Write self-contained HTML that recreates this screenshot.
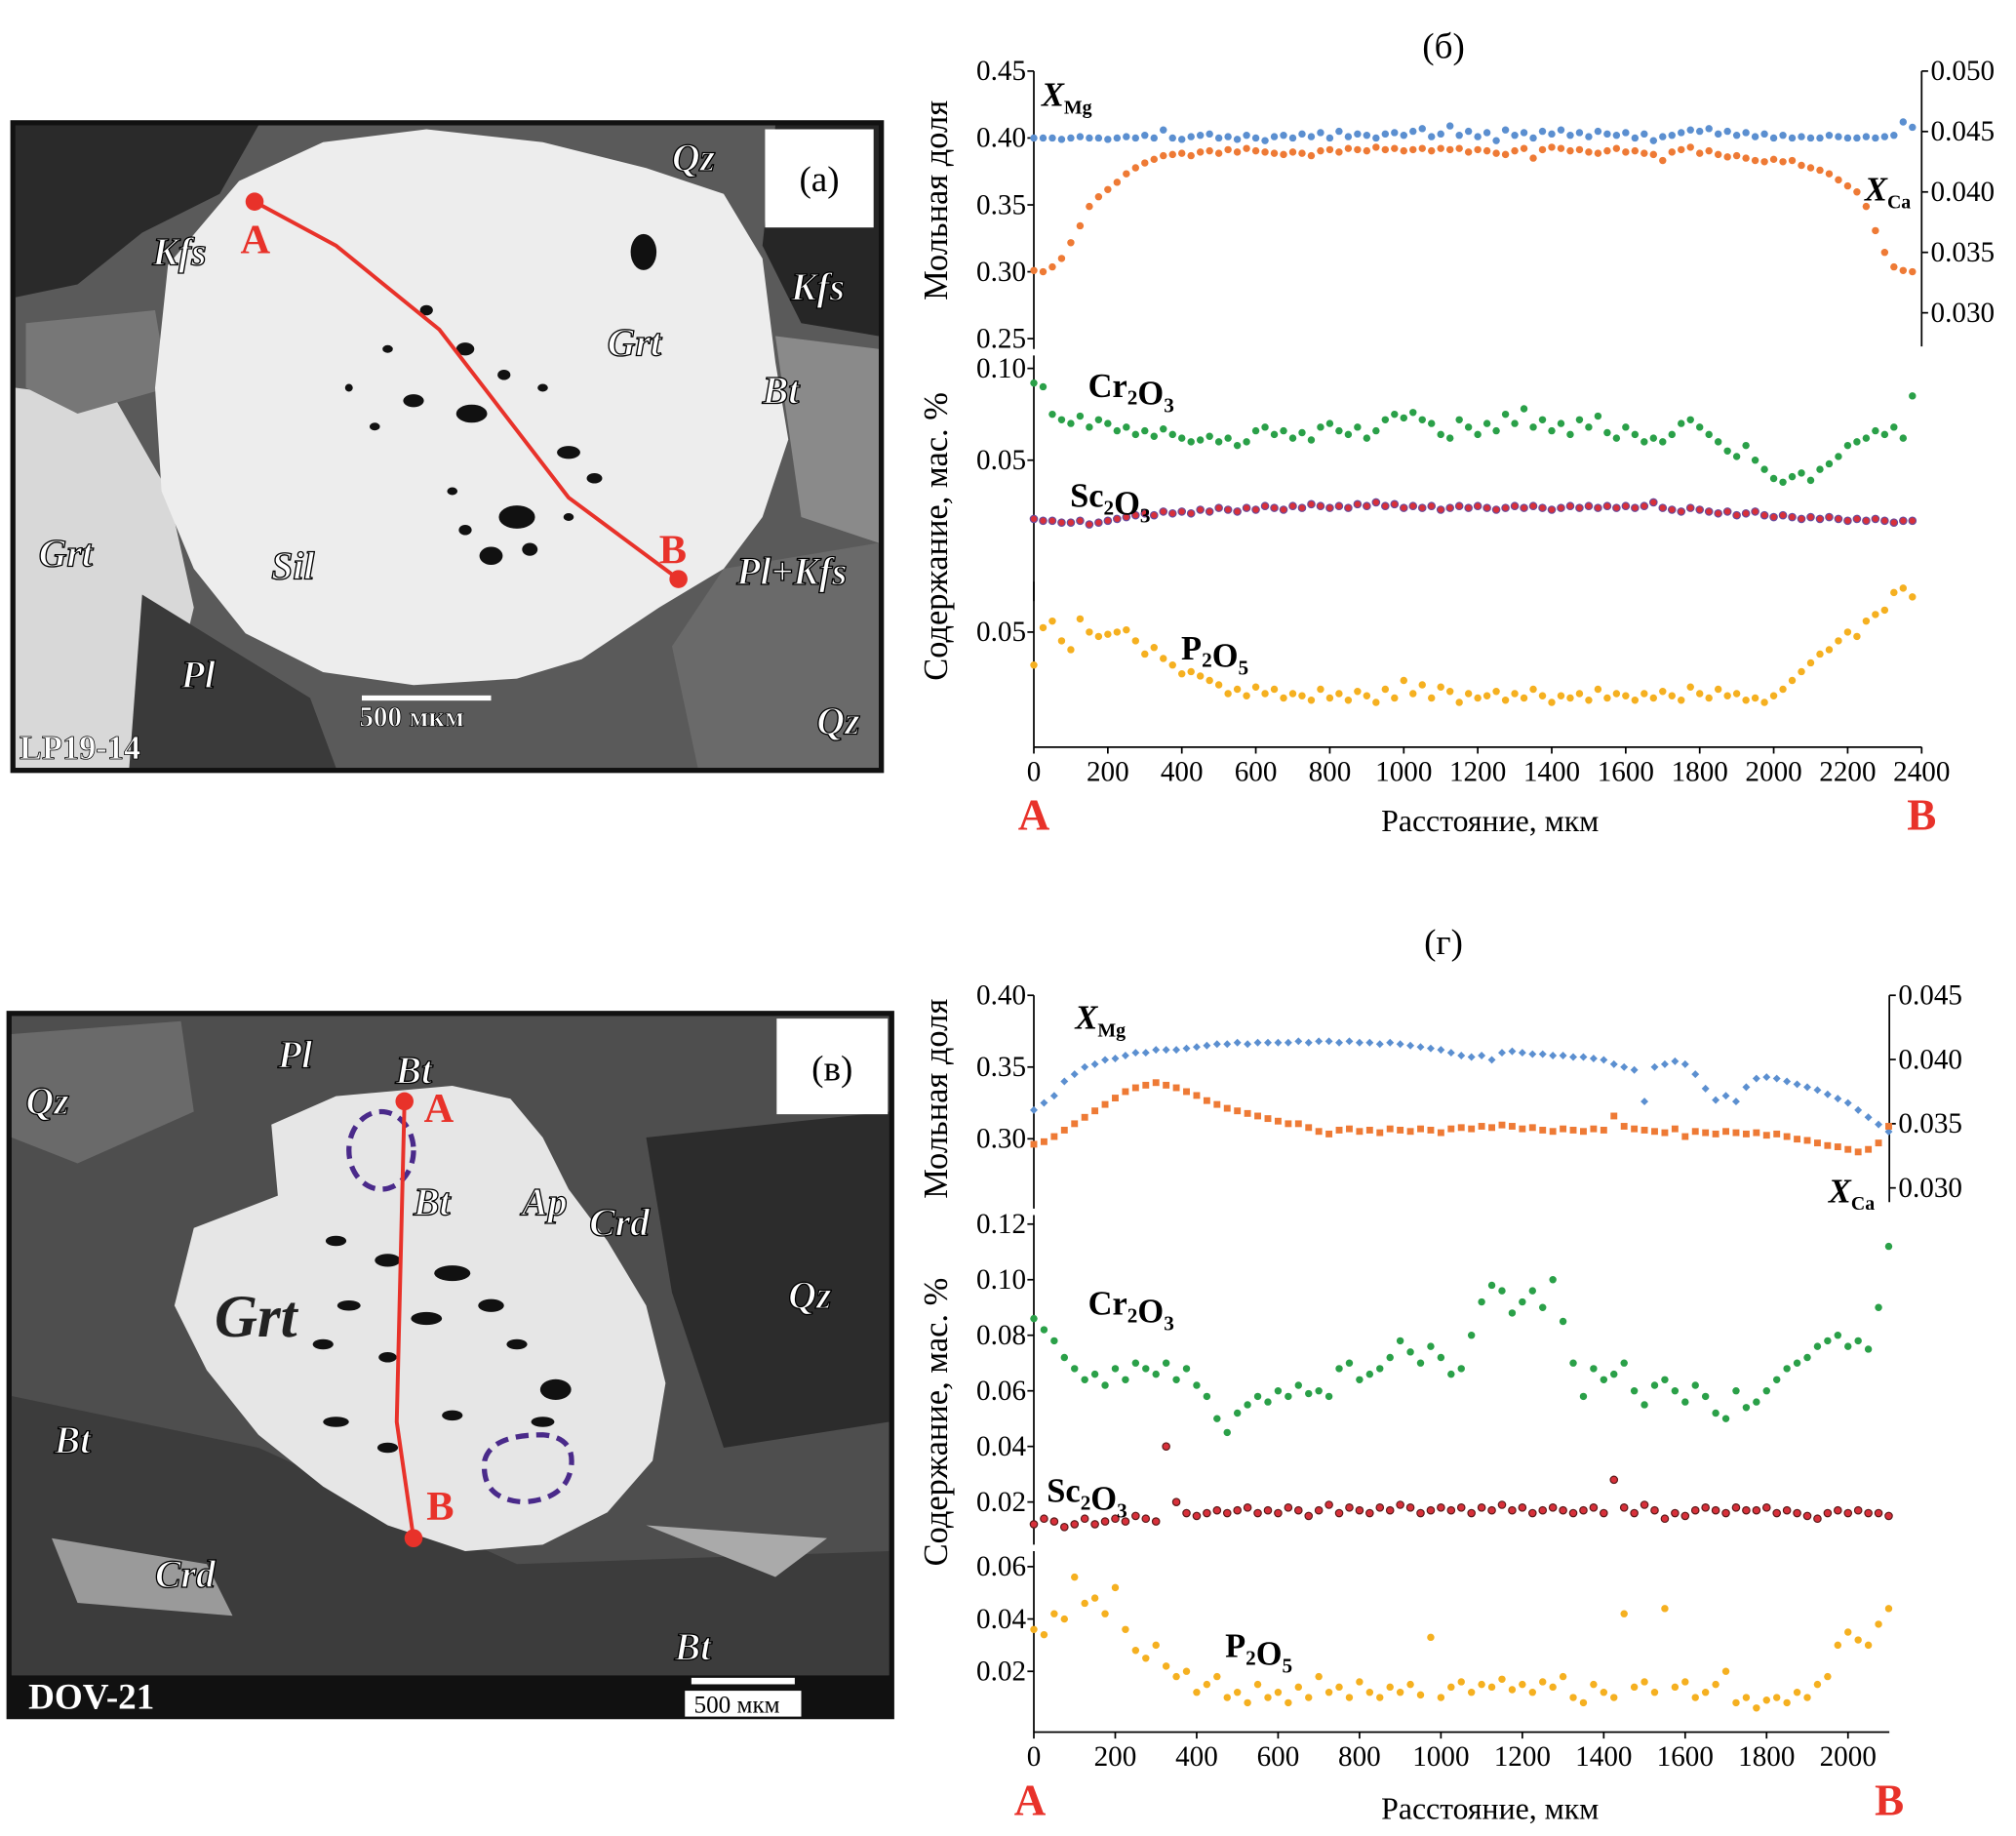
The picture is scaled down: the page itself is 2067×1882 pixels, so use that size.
<!DOCTYPE html>
<html><head><meta charset="utf-8">
<style>
html,body{margin:0;padding:0;background:#fff;overflow:hidden;width:2067px;height:1875px}
#root{position:absolute;left:0;top:0;width:1560px;height:1415px;transform:scale(1.325);transform-origin:0 0;font-family:"Liberation Serif",serif}
svg text{font-family:"Liberation Serif",serif}
</style></head><body>
<div id="root">
<svg id="s" width="1560" height="1415" viewBox="0 0 1560 1415" xmlns="http://www.w3.org/2000/svg">
<!-- Photo (a) -->
<g>
<rect x="8" y="93" width="676" height="505" fill="#111"/>
<rect x="12" y="97" width="668" height="497" fill="#5a5a5a"/>
<path d="M12 97 L200 97 L170 150 L110 180 L60 220 L12 230Z" fill="#2a2a2a"/>
<path d="M12 300 L90 310 L130 380 L150 470 L120 594 L12 594Z" fill="#d8d8d8"/>
<path d="M600 97 L680 97 L680 260 L620 250 L590 190Z" fill="#262626"/>
<path d="M600 260 L680 270 L680 420 L620 400Z" fill="#8a8a8a"/>
<path d="M560 440 L680 420 L680 594 L540 594 L520 500Z" fill="#6a6a6a"/>
<path d="M20 250 L120 240 L130 300 L60 320 L20 300Z" fill="#777"/>
<path d="M110 460 L240 540 L260 594 L100 594Z" fill="#3a3a3a"/>
<path d="M130 205 L185 140 L250 110 L330 100 L420 110 L500 130 L560 150 L590 200 L600 280 L610 340 L590 400 L560 440 L510 470 L450 510 L400 525 L320 530 L250 520 L190 490 L150 440 L125 380 L120 300Z" fill="#ededed"/>
<g fill="#111">
<ellipse cx="498" cy="195" rx="10" ry="14"/><ellipse cx="320" cy="310" rx="8" ry="5"/><ellipse cx="365" cy="320" rx="12" ry="7"/>
<ellipse cx="400" cy="400" rx="14" ry="9"/><ellipse cx="380" cy="430" rx="9" ry="7"/><ellipse cx="410" cy="425" rx="6" ry="5"/>
<ellipse cx="360" cy="270" rx="7" ry="5"/><ellipse cx="300" cy="270" rx="4" ry="3"/><ellipse cx="330" cy="240" rx="5" ry="4"/>
<ellipse cx="440" cy="350" rx="9" ry="5"/><ellipse cx="460" cy="370" rx="6" ry="4"/><ellipse cx="290" cy="330" rx="4" ry="3"/>
<ellipse cx="350" cy="380" rx="4" ry="3"/><ellipse cx="270" cy="300" rx="3" ry="3"/><ellipse cx="390" cy="290" rx="5" ry="4"/>
<ellipse cx="420" cy="300" rx="4" ry="3"/><ellipse cx="360" cy="410" rx="5" ry="4"/><ellipse cx="440" cy="400" rx="4" ry="3"/>
</g>
<polyline points="197,156 260,190 340,255 440,385 525,448" fill="none" stroke="#e8322a" stroke-width="3"/>
<circle cx="197" cy="156" r="7" fill="#e8322a"/><circle cx="525" cy="448" r="7" fill="#e8322a"/>
<rect x="592" y="100" width="84" height="76" fill="#fff"/>
<text x="634" y="148" font-size="28" text-anchor="middle">(а)</text>
<g font-weight="bold" font-style="italic" font-size="30" fill="#fff" stroke="#000" stroke-width="1">
<text x="118" y="205">Kfs</text><text x="520" y="132">Qz</text><text x="470" y="275">Grt</text>
<text x="612" y="232">Kfs</text><text x="590" y="312">Bt</text><text x="30" y="438">Grt</text>
<text x="210" y="448">Sil</text><text x="570" y="452">Pl+Kfs</text><text x="140" y="532">Pl</text><text x="632" y="568">Qz</text>
</g>
<g font-weight="bold" font-size="32" fill="#e8322a"><text x="186" y="196">A</text><text x="510" y="436">B</text></g>
<rect x="280" y="538" width="100" height="4" fill="#fff"/>
<text x="278" y="562" font-size="22" font-weight="bold" fill="#fff" stroke="#000" stroke-width="0.6">500 мкм</text>
<text x="15" y="587" font-size="26" font-weight="bold" fill="#fff" stroke="#000" stroke-width="0.6">LP19-14</text>
</g>
<!-- Photo (в) -->
<g>
<rect x="5" y="782" width="687" height="548" fill="#111"/>
<rect x="9" y="786" width="679" height="510" fill="#4e4e4e"/>
<path d="M9 1080 L200 1120 L400 1210 L688 1200 L688 1296 L9 1296Z" fill="#3c3c3c"/>
<path d="M500 880 L688 860 L688 1100 L560 1120 L520 1000Z" fill="#2c2c2c"/>
<path d="M9 800 L140 790 L150 860 L60 900 L9 880Z" fill="#6a6a6a"/>
<path d="M40 1190 L160 1210 L180 1250 L60 1240Z" fill="#9a9a9a"/>
<path d="M500 1180 L640 1190 L600 1220Z" fill="#aaa"/>
<path d="M210 870 L260 848 L350 840 L395 850 L420 880 L440 920 L470 960 L500 1010 L515 1070 L505 1130 L470 1170 L420 1195 L360 1200 L300 1180 L250 1150 L200 1110 L160 1060 L135 1010 L150 950 L215 925Z" fill="#e6e6e6"/>
<g fill="#111">
<ellipse cx="260" cy="960" rx="8" ry="4"/><ellipse cx="300" cy="975" rx="10" ry="5"/><ellipse cx="350" cy="985" rx="14" ry="6"/>
<ellipse cx="380" cy="1010" rx="10" ry="5"/><ellipse cx="330" cy="1020" rx="12" ry="5"/><ellipse cx="270" cy="1010" rx="9" ry="4"/>
<ellipse cx="250" cy="1040" rx="8" ry="4"/><ellipse cx="300" cy="1050" rx="7" ry="4"/><ellipse cx="400" cy="1040" rx="8" ry="4"/>
<ellipse cx="430" cy="1075" rx="12" ry="8"/><ellipse cx="350" cy="1095" rx="8" ry="4"/><ellipse cx="260" cy="1100" rx="10" ry="4"/>
<ellipse cx="300" cy="1120" rx="8" ry="4"/><ellipse cx="420" cy="1100" rx="9" ry="4"/>
</g>
<ellipse cx="295" cy="890" rx="25" ry="30" fill="none" stroke="#4a2a8a" stroke-width="4" stroke-dasharray="10,6"/>
<path d="M375 1130 Q380 1110 420 1110 Q445 1112 442 1135 Q438 1160 405 1162 Q372 1160 375 1130Z" fill="none" stroke="#4a2a8a" stroke-width="4" stroke-dasharray="10,6"/>
<polyline points="313,852 307,1100 320,1190" fill="none" stroke="#e8322a" stroke-width="3"/>
<circle cx="313" cy="852" r="7" fill="#e8322a"/><circle cx="320" cy="1190" r="7" fill="#e8322a"/>
<rect x="601" y="788" width="86" height="74" fill="#fff"/>
<text x="644" y="836" font-size="28" text-anchor="middle">(в)</text>
<g font-weight="bold" font-style="italic" font-size="30" fill="#fff" stroke="#000" stroke-width="1">
<text x="215" y="826">Pl</text><text x="306" y="838">Bt</text><text x="20" y="862">Qz</text>
<text x="320" y="940">Bt</text><text x="404" y="940">Ap</text><text x="456" y="956">Crd</text>
<text x="610" y="1012">Qz</text><text x="42" y="1124">Bt</text><text x="120" y="1228">Crd</text><text x="522" y="1284">Bt</text>
</g>
<text x="166" y="1034" font-weight="bold" font-style="italic" font-size="46" fill="#222">Grt</text>
<g font-weight="bold" font-size="32" fill="#e8322a"><text x="328" y="868">A</text><text x="330" y="1176">B</text></g>
<rect x="535" y="1298" width="80" height="5" fill="#fff"/>
<rect x="530" y="1308" width="90" height="20" fill="#fff"/>
<text x="537" y="1325" font-size="19">500 мкм</text>
<text x="22" y="1322" font-size="28" font-weight="bold" fill="#fff">DOV-21</text>
</g>
<g id="chartB"></g>
<g id="chartG"></g>
</svg>
</div>
<script>
const stepB = 25;
const xMgB = [0.400,0.400,0.400,0.399,0.400,0.401,0.400,0.400,0.399,0.400,0.401,0.400,0.402,0.400,0.406,0.400,0.399,0.401,0.402,0.403,0.400,0.401,0.399,0.402,0.400,0.398,0.401,0.402,0.400,0.403,0.401,0.404,0.400,0.405,0.401,0.403,0.402,0.400,0.403,0.404,0.402,0.405,0.407,0.401,0.403,0.409,0.402,0.405,0.401,0.404,0.398,0.406,0.402,0.404,0.400,0.405,0.403,0.406,0.402,0.404,0.401,0.405,0.403,0.402,0.404,0.400,0.403,0.398,0.401,0.402,0.404,0.406,0.405,0.407,0.403,0.405,0.402,0.404,0.401,0.403,0.400,0.402,0.400,0.401,0.400,0.400,0.402,0.401,0.400,0.400,0.401,0.400,0.401,0.402,0.412,0.408];
const xCaB = [0.0335,0.0334,0.0338,0.0345,0.0358,0.0372,0.0388,0.0396,0.0402,0.0408,0.0415,0.0420,0.0424,0.0427,0.0430,0.0431,0.0432,0.0430,0.0433,0.0434,0.0432,0.0435,0.0433,0.0436,0.0434,0.0433,0.0432,0.0431,0.0433,0.0432,0.0430,0.0434,0.0435,0.0433,0.0436,0.0435,0.0434,0.0437,0.0435,0.0436,0.0434,0.0435,0.0436,0.0434,0.0436,0.0435,0.0436,0.0433,0.0435,0.0434,0.0432,0.0431,0.0434,0.0436,0.0428,0.0435,0.0437,0.0436,0.0434,0.0435,0.0433,0.0432,0.0434,0.0436,0.0433,0.0434,0.0432,0.0431,0.0426,0.0433,0.0435,0.0437,0.0432,0.0434,0.0431,0.0429,0.0430,0.0428,0.0426,0.0425,0.0427,0.0425,0.0426,0.0422,0.0420,0.0418,0.0415,0.0410,0.0405,0.0400,0.0388,0.0368,0.0350,0.0338,0.0335,0.0334];
const crB = [0.092,0.090,0.075,0.072,0.070,0.074,0.068,0.072,0.070,0.066,0.068,0.064,0.066,0.063,0.067,0.064,0.062,0.060,0.061,0.063,0.060,0.062,0.058,0.060,0.066,0.068,0.064,0.066,0.062,0.065,0.061,0.068,0.070,0.066,0.064,0.068,0.062,0.066,0.072,0.075,0.073,0.076,0.072,0.070,0.064,0.062,0.072,0.068,0.064,0.070,0.066,0.075,0.070,0.078,0.068,0.072,0.066,0.070,0.064,0.072,0.068,0.074,0.065,0.062,0.068,0.064,0.060,0.062,0.060,0.064,0.070,0.072,0.068,0.064,0.060,0.055,0.052,0.058,0.050,0.045,0.040,0.038,0.041,0.043,0.039,0.045,0.048,0.052,0.058,0.060,0.062,0.066,0.064,0.068,0.062,0.085];
const scB = [0.018,0.017,0.017,0.016,0.016,0.017,0.015,0.016,0.017,0.018,0.019,0.020,0.021,0.020,0.022,0.021,0.022,0.021,0.023,0.022,0.024,0.023,0.022,0.024,0.023,0.025,0.024,0.023,0.025,0.024,0.026,0.025,0.024,0.025,0.024,0.026,0.025,0.027,0.025,0.026,0.024,0.025,0.024,0.025,0.023,0.024,0.025,0.024,0.025,0.024,0.023,0.024,0.025,0.024,0.025,0.024,0.023,0.024,0.025,0.024,0.025,0.024,0.025,0.024,0.025,0.024,0.025,0.027,0.024,0.023,0.022,0.024,0.023,0.022,0.021,0.022,0.020,0.021,0.022,0.020,0.019,0.020,0.019,0.018,0.019,0.018,0.019,0.018,0.017,0.018,0.017,0.018,0.017,0.016,0.017,0.017];
const pB = [0.035,0.052,0.055,0.046,0.042,0.056,0.050,0.048,0.049,0.050,0.051,0.046,0.040,0.043,0.038,0.035,0.031,0.032,0.030,0.028,0.026,0.022,0.024,0.021,0.025,0.022,0.024,0.020,0.022,0.021,0.019,0.024,0.020,0.022,0.019,0.023,0.021,0.018,0.024,0.020,0.028,0.022,0.026,0.020,0.025,0.023,0.018,0.022,0.020,0.021,0.023,0.019,0.022,0.020,0.024,0.021,0.018,0.021,0.020,0.022,0.019,0.024,0.020,0.022,0.021,0.019,0.022,0.020,0.023,0.021,0.019,0.025,0.022,0.020,0.024,0.021,0.022,0.019,0.020,0.018,0.021,0.024,0.028,0.032,0.036,0.040,0.042,0.046,0.050,0.048,0.055,0.058,0.060,0.068,0.070,0.066];
const ticksXB = [0,200,400,600,800,1000,1200,1400,1600,1800,2000,2200,2400];
const ticksMolB = [0.45,0.40,0.35,0.30,0.25];
const ticksCaB = [0.050,0.045,0.040,0.035,0.030];
const ticksCrB = [0.10,0.05];
const ticksPB = [0.05];

const stepG = 25;
const xMgG = [0.320,0.325,0.330,0.340,0.345,0.350,0.352,0.355,0.356,0.358,0.360,0.360,0.362,0.362,0.362,0.363,0.364,0.365,0.366,0.366,0.367,0.366,0.367,0.367,0.367,0.367,0.368,0.367,0.368,0.368,0.367,0.368,0.367,0.367,0.366,0.367,0.366,0.365,0.364,0.363,0.362,0.360,0.358,0.357,0.358,0.355,0.360,0.361,0.360,0.359,0.359,0.358,0.358,0.357,0.357,0.356,0.355,0.352,0.350,0.348,0.326,0.350,0.352,0.354,0.352,0.345,0.335,0.327,0.330,0.326,0.336,0.342,0.343,0.342,0.340,0.338,0.336,0.334,0.331,0.328,0.325,0.320,0.315,0.310,0.305];
const xCaG = [0.0334,0.0336,0.0340,0.0345,0.0350,0.0355,0.0360,0.0365,0.0370,0.0375,0.0378,0.0380,0.0382,0.0380,0.0378,0.0375,0.0372,0.0368,0.0365,0.0362,0.0360,0.0358,0.0356,0.0354,0.0352,0.0350,0.0350,0.0347,0.0344,0.0342,0.0345,0.0346,0.0344,0.0345,0.0343,0.0346,0.0345,0.0344,0.0346,0.0345,0.0343,0.0346,0.0347,0.0346,0.0348,0.0347,0.0349,0.0348,0.0346,0.0347,0.0345,0.0344,0.0346,0.0345,0.0344,0.0346,0.0345,0.0356,0.0348,0.0346,0.0345,0.0344,0.0343,0.0346,0.0340,0.0344,0.0343,0.0342,0.0344,0.0343,0.0342,0.0343,0.0341,0.0342,0.0340,0.0338,0.0337,0.0335,0.0333,0.0332,0.0330,0.0328,0.0330,0.0335,0.0348];
const crG = [0.086,0.082,0.078,0.072,0.068,0.064,0.066,0.062,0.068,0.064,0.070,0.068,0.066,0.070,0.064,0.068,0.062,0.058,0.050,0.045,0.052,0.055,0.058,0.056,0.060,0.058,0.062,0.059,0.060,0.058,0.068,0.070,0.064,0.066,0.068,0.072,0.078,0.074,0.070,0.076,0.072,0.066,0.068,0.080,0.092,0.098,0.096,0.088,0.092,0.096,0.090,0.100,0.085,0.070,0.058,0.068,0.064,0.066,0.070,0.060,0.055,0.062,0.064,0.060,0.056,0.062,0.058,0.052,0.050,0.060,0.054,0.056,0.060,0.064,0.068,0.070,0.072,0.076,0.078,0.080,0.076,0.078,0.075,0.090,0.112];
const scG = [0.012,0.014,0.013,0.011,0.012,0.014,0.012,0.013,0.014,0.013,0.015,0.014,0.013,0.040,0.020,0.016,0.015,0.016,0.017,0.016,0.017,0.018,0.016,0.017,0.016,0.018,0.017,0.015,0.017,0.019,0.016,0.018,0.017,0.016,0.018,0.017,0.019,0.018,0.016,0.017,0.018,0.017,0.018,0.016,0.018,0.017,0.019,0.017,0.018,0.016,0.017,0.018,0.017,0.016,0.017,0.018,0.016,0.028,0.018,0.016,0.019,0.017,0.014,0.016,0.015,0.017,0.018,0.017,0.016,0.018,0.017,0.017,0.018,0.016,0.017,0.016,0.015,0.014,0.016,0.017,0.016,0.017,0.016,0.016,0.015];
const pG = [0.036,0.034,0.042,0.040,0.056,0.046,0.048,0.042,0.052,0.036,0.028,0.025,0.030,0.022,0.018,0.020,0.012,0.015,0.018,0.010,0.012,0.008,0.015,0.010,0.012,0.008,0.014,0.010,0.018,0.012,0.014,0.010,0.016,0.012,0.010,0.014,0.012,0.015,0.011,0.033,0.010,0.014,0.016,0.012,0.015,0.014,0.017,0.013,0.015,0.012,0.016,0.014,0.018,0.010,0.008,0.015,0.012,0.010,0.042,0.014,0.016,0.012,0.044,0.014,0.016,0.010,0.012,0.015,0.020,0.008,0.010,0.006,0.009,0.010,0.008,0.012,0.010,0.015,0.018,0.030,0.035,0.032,0.030,0.038,0.044];
const ticksXG = [0,200,400,600,800,1000,1200,1400,1600,1800,2000];
const ticksMolG = [0.40,0.35,0.30];
const ticksCaG = [0.045,0.040,0.035,0.030];
const ticksCrG = [0.12,0.10,0.08,0.06,0.04,0.02];
const ticksPG = [0.06,0.04,0.02];

const NS = "http://www.w3.org/2000/svg";
function mk(parent, tag, attrs) {
  const e = document.createElementNS(NS, tag);
  for (const k in attrs) e.setAttribute(k, attrs[k]);
  parent.appendChild(e);
  return e;
}
function lin(d0, d1, r0, r1) { return v => r0 + (v - d0) / (d1 - d0) * (r1 - r0); }
function txt(parent, x, y, s, size, anchor, extra) {
  const t = mk(parent, 'text', Object.assign({x: x, y: y, 'font-size': size, 'text-anchor': anchor || 'start'}, extra || {}));
  t.textContent = s;
  return t;
}
function fmt(v, d) { return v.toFixed(d); }
function yAxis(g, x, y0, y1, ticks, sc, dec, side, name) {
  const ax = mk(g, 'line', {x1: x, x2: x, y1: y0, y2: y1, stroke: '#000', 'stroke-width': 1.3});
  
  
  ticks.forEach(v => {
    const y = sc(v);
    const dx = side === 'left' ? -5 : 5;
    mk(g, 'line', {x1: x, x2: x + dx, y1: y, y2: y, stroke: '#000', 'stroke-width': 1.3});
    const t = txt(g, side === 'left' ? x - 6 : x + 7, y + 7, fmt(v, dec), 22, side === 'left' ? 'end' : 'start');
    
    
  });
}
function series(g, vals, step, xs, ys, color, shape, stroke, name) {
  vals.forEach((v, i) => {
    const cx = xs(i * step), cy = ys(v);
    let e;
    if (shape === 'sq') e = mk(g, 'rect', {x: cx - 2.6, y: cy - 2.6, width: 5.2, height: 5.2, fill: color});
    else if (shape === 'dia') e = mk(g, 'path', {d: `M${cx} ${cy-3}L${cx+3} ${cy}L${cx} ${cy+3}L${cx-3} ${cy}Z`, fill: color});
    else e = mk(g, 'circle', {cx: cx, cy: cy, r: 2.8, fill: color, stroke: stroke || 'none', 'stroke-width': stroke ? 0.9 : 0});
    
    
  });
}
function xAxis(g, y, x0, x1, ticks, xs, name) {
  const ax = mk(g, 'line', {x1: x0, x2: x1, y1: y, y2: y, stroke: '#000', 'stroke-width': 1.3});
  
  
  ticks.forEach(v => {
    mk(g, 'line', {x1: xs(v), x2: xs(v), y1: y, y2: y + 5, stroke: '#000', 'stroke-width': 1.3});
    const t = txt(g, xs(v), y + 26, String(v), 22, 'middle');
    
    
  });
}
function chemLabel(g, x, y, parts, name) {
  const t = mk(g, 'text', {x: x, y: y, 'font-size': 26, 'font-weight': 'bold'});
  
  
  parts.forEach(p => {
    const s = mk(t, 'tspan', p[1] ? {'font-size': 16, dy: 6} : {'font-size': 26, dy: p[2] || 0});
    s.textContent = p[0];
  });
}
function xLabel(g, x, y, sub, name) {
  const t = mk(g, 'text', {x: x, y: y, 'font-size': 26, 'font-weight': 'bold', 'font-style': 'italic'});
  
  
  const a = mk(t, 'tspan', {}); a.textContent = 'X';
  const b = mk(t, 'tspan', {'font-size': 15, dy: 6, 'font-style': 'normal'}); b.textContent = sub;
}
function rotLabel(g, x, y, s, name) {
  const t = txt(g, x, y, s, 26, 'middle', {transform: `rotate(-90 ${x} ${y})`});
  
  
}

// ---- Chart б ----
(function(){
  const g = document.getElementById('chartB');
  const xs = lin(0, 2400, 800, 1487);
  const yMol = lin(0.45, 0.25, 55, 262);
  const yCa = lin(0.050, 0.030, 55, 242);
  const yCr = lin(0.10, 0.05, 285, 356);
  const yP = lin(0.05, 0.03, 489, 523);
  txt(g, 1117, 45, '(б)', 28, 'middle');
  yAxis(g, 800, 55, 270, ticksMolB, yMol, 2, 'left', 'y-axis-mol-b');
  yAxis(g, 1487, 55, 268, ticksCaB, yCa, 3, 'right', 'y-axis-xca-b');
  yAxis(g, 800, 275, 465, ticksCrB, yCr, 2, 'left', 'y-axis-cr-b');
  yAxis(g, 800, 450, 578, ticksPB, yP, 2, 'left', 'y-axis-p-b');
  xAxis(g, 578, 800, 1487, ticksXB, xs, 'x-axis-b');
  series(g, xMgB, stepB, xs, yMol, '#5b8fd0', 'c', null, 'xmg-point');
  series(g, xCaB, stepB, xs, yCa, '#ee7a35', 'c', null, 'xca-point');
  series(g, crB, stepB, xs, yCr, '#2aa048', 'c', null, 'cr2o3-point');
  series(g, scB, stepB, xs, yCr, '#d8303a', 'c', '#6a4a9a', 'sc2o3-point');
  series(g, pB, stepB, xs, yP, '#f5b020', 'c', null, 'p2o5-point');
  xLabel(g, 806, 82, 'Mg', 'xmg-label');
  xLabel(g, 1443, 155, 'Ca', 'xca-label');
  chemLabel(g, 842, 307, [['Cr'],['2',1],['O',0],['3',1]], 'cr2o3-label');
  chemLabel(g, 828, 392, [['Sc'],['2',1],['O',0],['3',1]], 'sc2o3-label');
  chemLabel(g, 914, 510, [['P'],['2',1],['O',0],['5',1]], 'p2o5-label');
  rotLabel(g, 733, 155, 'Мольная доля', 'y-title-mol-b');
  rotLabel(g, 733, 415, 'Содержание, мас. %', 'y-title-content-b');
  txt(g, 1153, 643, 'Расстояние, мкм', 24, 'middle');
  txt(g, 800, 642, 'A', 34, 'middle', {fill: '#e8322a', 'font-weight': 'bold'});
  txt(g, 1487, 642, 'B', 34, 'middle', {fill: '#e8322a', 'font-weight': 'bold'});
})();

// ---- Chart г ----
(function(){
  const g = document.getElementById('chartG');
  const xs = lin(0, 2000, 800, 1430);
  const yMol = lin(0.40, 0.30, 770, 881);
  const yCa = lin(0.045, 0.030, 770, 919);
  const yCr = lin(0.12, 0.02, 947, 1162);
  const yP = lin(0.06, 0.02, 1212, 1293);
  txt(g, 1117, 738, '(г)', 28, 'middle');
  yAxis(g, 800, 770, 935, ticksMolG, yMol, 2, 'left', 'y-axis-mol-g');
  yAxis(g, 1462, 770, 930, ticksCaG, yCa, 3, 'right', 'y-axis-xca-g');
  yAxis(g, 800, 940, 1195, ticksCrG, yCr, 2, 'left', 'y-axis-cr-g');
  yAxis(g, 800, 1200, 1340, ticksPG, yP, 2, 'left', 'y-axis-p-g');
  xAxis(g, 1340, 800, 1462, ticksXG, xs, 'x-axis-g');
  series(g, xMgG, stepG, xs, yMol, '#5b8fd0', 'dia', null, 'xmg-point');
  series(g, xCaG, stepG, xs, yCa, '#ee7a35', 'sq', null, 'xca-point');
  series(g, crG, stepG, xs, yCr, '#2aa048', 'c', null, 'cr2o3-point');
  series(g, scG, stepG, xs, yCr, '#d8303a', 'c', '#5a1a1a', 'sc2o3-point');
  series(g, pG, stepG, xs, yP, '#f5b020', 'c', null, 'p2o5-point');
  xLabel(g, 832, 796, 'Mg', 'xmg-label');
  xLabel(g, 1415, 930, 'Ca', 'xca-label');
  chemLabel(g, 842, 1017, [['Cr'],['2',1],['O',0],['3',1]], 'cr2o3-label');
  chemLabel(g, 810, 1162, [['Sc'],['2',1],['O',0],['3',1]], 'sc2o3-label');
  chemLabel(g, 948, 1282, [['P'],['2',1],['O',0],['5',1]], 'p2o5-label');
  rotLabel(g, 733, 850, 'Мольная доля', 'y-title-mol-g');
  rotLabel(g, 733, 1100, 'Содержание, мас. %', 'y-title-content-g');
  txt(g, 1153, 1407, 'Расстояние, мкм', 24, 'middle');
  txt(g, 797, 1404, 'A', 34, 'middle', {fill: '#e8322a', 'font-weight': 'bold'});
  txt(g, 1462, 1404, 'B', 34, 'middle', {fill: '#e8322a', 'font-weight': 'bold'});
})();
</script>
</body></html>
